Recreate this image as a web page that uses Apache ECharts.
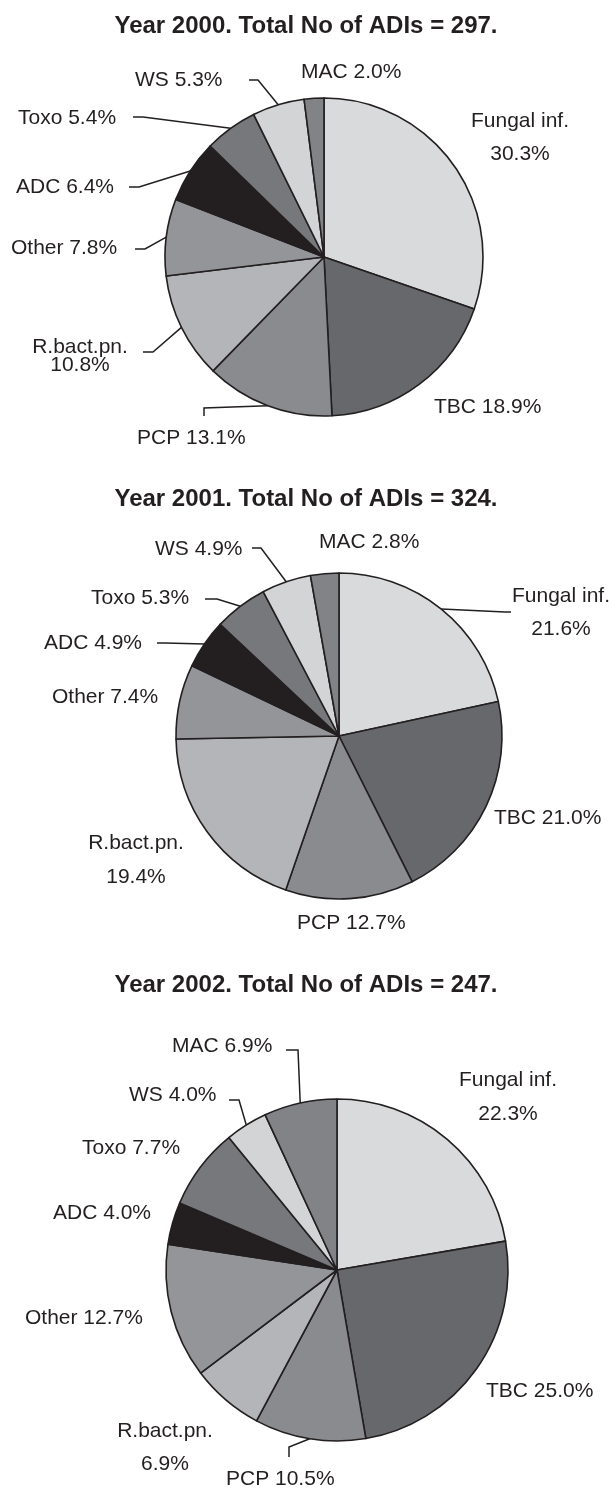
<!DOCTYPE html>
<html><head><meta charset="utf-8">
<script src="https://cdn.jsdelivr.net/npm/echarts@6/dist/echarts.min.js"></script>
<style>html,body{margin:0;padding:0;background:#fff}#c{width:612px;height:1488px}</style>
</head><body><div id="c"></div>
<script>
// ---- data ----
const categories = ['Fungal inf.', 'TBC', 'PCP', 'R.bact.pn.', 'Other', 'ADC', 'Toxo', 'WS', 'MAC'];
const values2000 = [30.3, 18.9, 13.1, 10.8, 7.8, 6.4, 5.4, 5.3, 2.0];
const values2001 = [21.6, 21.0, 12.7, 19.4, 7.4, 4.9, 5.3, 4.9, 2.8];
const values2002 = [22.3, 25.0, 10.5, 6.9, 12.7, 4.0, 7.7, 4.0, 6.9];
const years = [2000, 2001, 2002];
const totals = [297, 324, 247];
const twoLine = [true, false, false, true, false, false, false, false, false];

// ---- styles / layout ----
const colors = ['#d9dadc', '#67686c', '#8a8b8f', '#b4b5b8', '#949599', '#231f20', '#77787b', '#d3d4d6', '#828387'];
const ink = '#231f20';
const font = 'Liberation Sans, Arial, Helvetica, sans-serif';
const pies = [
  {center: [324, 257], r: 159, titleTop: 14},
  {center: [339, 736], r: 163, titleTop: 487},
  {center: [337, 1270], r: 171, titleTop: 973}
];
const labelPos = [
  [
    {x: 520, y: 138, align: 'center', lh: 33},
    {x: 434, y: 407},
    {x: 137, y: 438, elbow: [204, 408], end: [204, 416]},
    {x: 80, y: 356, align: 'center', lh: 18, elbow: [153, 352], end: [143, 352]},
    {x: 11, y: 248, elbow: [145, 249], end: [135, 249]},
    {x: 16, y: 187, elbow: [139, 187], end: [129, 187]},
    {x: 18, y: 118, elbow: [143, 117], end: [133, 117]},
    {x: 135, y: 80, elbow: [258, 80], end: [249, 80]},
    {x: 301, y: 72}
  ],
  [
    {x: 561, y: 613, align: 'center', lh: 33, elbow: [505, 612], end: [511, 612]},
    {x: 494, y: 818},
    {x: 297, y: 923},
    {x: 136, y: 860, align: 'center', lh: 34},
    {x: 52, y: 697},
    {x: 44, y: 643, elbow: [165, 643], end: [157, 643]},
    {x: 91, y: 598, elbow: [217, 599], end: [205, 599]},
    {x: 155, y: 549, elbow: [261, 548], end: [252, 548]},
    {x: 319, y: 542}
  ],
  [
    {x: 508, y: 1097, align: 'center', lh: 34},
    {x: 486, y: 1391},
    {x: 226, y: 1479, elbow: [289, 1447], end: [289, 1457]},
    {x: 165, y: 1448, align: 'center', lh: 33},
    {x: 25, y: 1318},
    {x: 53, y: 1213},
    {x: 82, y: 1148},
    {x: 129, y: 1095, elbow: [239, 1100], end: [229, 1100]},
    {x: 172, y: 1046, elbow: [298, 1050], end: [286, 1050]}
  ]
];

const allValues = [values2000, values2001, values2002];

function edgePoint(si, di) {
  const vals = allValues[si];
  const tot = vals.reduce((a, b) => a + b, 0);
  let cum = 0;
  for (let i = 0; i < di; i++) cum += vals[i];
  const a = (cum + vals[di] / 2) / tot * Math.PI * 2;
  const p = pies[si];
  return [p.center[0] + p.r * Math.sin(a), p.center[1] - p.r * Math.cos(a)];
}

const series = allValues.map((vals, si) => ({
  type: 'pie',
  center: pies[si].center,
  radius: pies[si].r,
  startAngle: 90,
  clockwise: true,
  avoidLabelOverlap: false,
  animation: false,
  silent: true,
  itemStyle: {borderColor: ink, borderWidth: 1.6},
  label: {
    show: true, position: 'outside', color: ink, fontSize: 21, fontFamily: font,
    formatter: (p) => p.name + (twoLine[p.dataIndex] ? '\n' : ' ') + p.value.toFixed(1) + '%'
  },
  labelLine: {show: true, lineStyle: {color: ink, width: 1.5}},
  labelLayout: (params) => {
    const L = labelPos[params.seriesIndex][params.dataIndex];
    const res = {x: L.x, y: L.y, align: L.align || 'left', verticalAlign: 'middle'};
    if (L.elbow) res.labelLinePoints = [edgePoint(params.seriesIndex, params.dataIndex), L.elbow, L.end];
    return res;
  },
  data: vals.map((v, i) => {
    const L = labelPos[si][i];
    return {
      name: categories[i], value: v,
      itemStyle: {color: colors[i]},
      label: L.lh ? {lineHeight: L.lh} : {},
      labelLine: {show: !!L.elbow}
    };
  })
}));

const chart = echarts.init(document.getElementById('c'), null, {renderer: 'canvas'});
chart.setOption({
  backgroundColor: '#fff',
  animation: false,
  title: years.map((y, i) => ({
    text: 'Year ' + y + '. Total No of ADIs = ' + totals[i] + '.',
    left: 'center', top: pies[i].titleTop, padding: 0,
    textStyle: {fontSize: 24, fontWeight: 'bold', color: ink, fontFamily: font}
  })),
  series: series
});
</script></body></html>
